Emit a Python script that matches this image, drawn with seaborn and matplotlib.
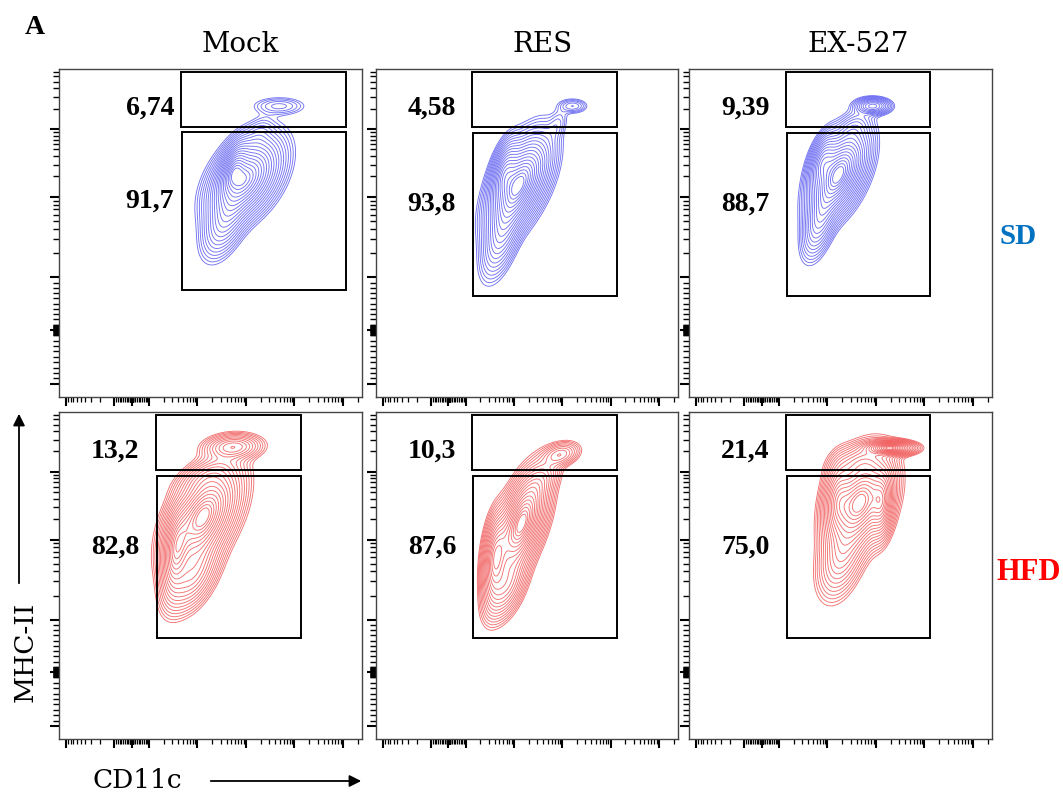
import numpy as np
import matplotlib
matplotlib.use("Agg")
import matplotlib.pyplot as plt
from matplotlib.patches import Rectangle, FancyArrowPatch
from matplotlib.ticker import FixedLocator, NullFormatter
import seaborn as sns

# group / condition labels
treatments = ["Mock", "RES", "EX-527"]
diets = ["SD", "HFD"]

# gate percentages (upper gate, lower gate), as printed
sd_upper_pct = ["6,74", "4,58", "9,39"]
sd_lower_pct = ["91,7", "93,8", "88,7"]
hfd_upper_pct = ["13,2", "10,3", "21,4"]
hfd_lower_pct = ["82,8", "87,6", "75,0"]

# gates in channel units (x0, y0, x1, y1), one per panel
upper_gates = [(0.403, 0.823, 0.947, 0.991), (0.318, 0.823, 0.798, 0.991), (0.320, 0.823, 0.796, 0.991),
               (0.320, 0.823, 0.800, 0.991), (0.318, 0.823, 0.798, 0.991), (0.320, 0.823, 0.796, 0.991)]
lower_gates = [(0.406, 0.326, 0.947, 0.808), (0.320, 0.308, 0.798, 0.805), (0.322, 0.308, 0.796, 0.805),
               (0.322, 0.309, 0.800, 0.804), (0.320, 0.309, 0.798, 0.804), (0.322, 0.309, 0.796, 0.804)]

# population components: (cx, cy, sx, sy, rho, amp) in channel units
sd_mock = [(0.615, 0.665, 0.060, 0.065, 0.45, 1.00),
           (0.550, 0.540, 0.040, 0.060, 0.50, 0.30),
           (0.575, 0.700, 0.028, 0.045, 0.55, 0.45),
           (0.660, 0.800, 0.025, 0.030, 0.40, 0.06),
           (0.727, 0.887, 0.048, 0.015, 0.00, 0.09)]
sd_res = [(0.475, 0.650, 0.052, 0.075, 0.55, 1.00),
          (0.418, 0.500, 0.035, 0.070, 0.55, 0.30),
          (0.425, 0.690, 0.025, 0.050, 0.50, 0.40),
          (0.600, 0.830, 0.020, 0.030, 0.50, 0.05),
          (0.652, 0.887, 0.026, 0.012, 0.00, 0.10)]
sd_ex = [(0.495, 0.680, 0.048, 0.068, 0.50, 1.00),
         (0.432, 0.540, 0.030, 0.060, 0.50, 0.30),
         (0.440, 0.720, 0.025, 0.045, 0.50, 0.40),
         (0.545, 0.820, 0.030, 0.030, 0.40, 0.08),
         (0.607, 0.887, 0.030, 0.013, 0.00, 0.35)]
hfd_mock = [(0.475, 0.680, 0.060, 0.078, 0.50, 1.00),
            (0.385, 0.570, 0.025, 0.070, 0.30, 0.55),
            (0.442, 0.505, 0.045, 0.060, 0.50, 0.35),
            (0.480, 0.800, 0.050, 0.030, 0.50, 0.12),
            (0.575, 0.893, 0.048, 0.020, 0.10, 0.30)]
hfd_res = [(0.482, 0.660, 0.043, 0.078, 0.55, 1.00),
           (0.395, 0.550, 0.022, 0.070, 0.30, 0.60),
           (0.432, 0.470, 0.035, 0.055, 0.50, 0.35),
           (0.545, 0.790, 0.035, 0.035, 0.50, 0.12),
           (0.610, 0.870, 0.033, 0.020, 0.30, 0.20)]
hfd_ex = [(0.565, 0.725, 0.053, 0.073, 0.35, 1.00),
          (0.637, 0.720, 0.020, 0.055, 0.20, 0.45),
          (0.490, 0.735, 0.025, 0.060, 0.20, 0.40),
          (0.505, 0.565, 0.040, 0.068, 0.40, 0.30),
          (0.560, 0.850, 0.050, 0.030, 0.30, 0.15),
          (0.665, 0.890, 0.040, 0.011, 0.00, 0.90)]

populations = [sd_mock, sd_res, sd_ex, hfd_mock, hfd_res, hfd_ex]
upper_pct = sd_upper_pct + hfd_upper_pct
lower_pct = sd_lower_pct + hfd_lower_pct


def ychan(v):
    # logicle-like MHC-II axis
    if v < 0:
        return 0.205 + v / 100 * 0.165
    if v <= 100:
        return 0.205 + v / 100 * 0.16
    d = np.log10(v / 100)
    return 0.365 + 0.245 * min(d, 1) + 0.207 * max(d - 1, 0)


def xchan(v):
    # logicle-like CD11c axis
    s = np.sign(v)
    a = abs(v)
    if a <= 100:
        return 0.24 + s * 0.057 * a / 100
    return 0.24 + s * (0.057 + np.log10(a / 100) * 0.16)


def tick_sets(chan, neg_decades, pos_decades):
    major = [0.0]
    minor = []
    for k in range(0, 2):
        for m in range(1, 10):
            minor += [m * 10 ** k, -m * 10 ** k]
    for k in range(2, pos_decades + 1):
        major.append(10.0 ** k)
        minor += [m * 10.0 ** k for m in range(2, 10)]
    for k in range(2, neg_decades + 1):
        major.append(-10.0 ** k)
        minor += [-m * 10.0 ** k for m in range(2, 10)]
    maj = [p for p in (chan(v) for v in major) if 0 <= p <= 1]
    mnr = [p for p in (chan(v) for v in minor) if 0 <= p <= 1]
    return maj, mnr


def density(comps, X, Y):
    Z = np.zeros_like(X)
    for cx, cy, sx, sy, rho, amp in comps:
        dx = (X - cx) / sx
        dy = (Y - cy) / sy
        q = (dx ** 2 - 2 * rho * dx * dy + dy ** 2) / (1 - rho ** 2)
        Z += amp * np.exp(-0.5 * q)
    return Z


sns.set_theme(style="white")
plt.rcParams['font.family'] = ['DejaVu Serif']
plt.rcParams['text.color'] = 'black'

fig = plt.figure(figsize=(10.63, 7.94), dpi=100)
W, H = 1063, 794
col_left = [59, 376, 689]
col_width = [303, 302, 303]
row_top = [69, 412]
row_height = [328, 327]
colors = ["#5050f0", "#f05050"]

gx = np.linspace(0, 1, 400)
X, Y = np.meshgrid(gx, gx)

xmaj, xmin = tick_sets(xchan, 3, 6)
ymaj, ymin = tick_sets(ychan, 2, 5)

# contour levels evenly spaced in "radius" so rings look like FlowJo's
ring = np.linspace(0.35, 2.8, 20)

for r in range(2):
    for c in range(3):
        i = r * 3 + c
        ax = fig.add_axes([col_left[c] / W, 1 - (row_top[r] + row_height[r]) / H,
                           col_width[c] / W, row_height[r] / H])
        ax.set_xlim(0, 1)
        ax.set_ylim(0, 1)
        Z = density(populations[i], X, Y)
        levels = np.sort(Z.max() * np.exp(-0.5 * ring ** 2))
        ax.contour(X, Y, Z, levels=levels, colors=colors[r], linewidths=0.65, alpha=0.8)

        for g in (upper_gates[i], lower_gates[i]):
            ax.add_patch(Rectangle((g[0], g[1]), g[2] - g[0], g[3] - g[1], fill=False,
                                   edgecolor="black", linewidth=1.4, zorder=5))

        lx = 0.38 if i == 0 else 0.265
        ly = 0.598 if i == 0 else 0.587
        ax.text(lx, 0.881, upper_pct[i], ha="right", va="center", fontsize=20,
                fontweight="bold", family="Liberation Serif")
        ax.text(lx, ly, lower_pct[i], ha="right", va="center", fontsize=20,
                fontweight="bold", family="Liberation Serif")

        ax.xaxis.set_major_locator(FixedLocator(xmaj))
        ax.xaxis.set_minor_locator(FixedLocator(xmin))
        ax.yaxis.set_major_locator(FixedLocator(ymaj))
        ax.yaxis.set_minor_locator(FixedLocator(ymin))
        ax.xaxis.set_major_formatter(NullFormatter())
        ax.yaxis.set_major_formatter(NullFormatter())
        ax.xaxis.set_tick_params(which="major", direction="out", length=6.5, width=1.5,
                                 color="black", bottom=True)
        ax.xaxis.set_tick_params(which="minor", direction="out", length=3.8, width=0.9,
                                 color="black", bottom=True)
        ax.yaxis.set_tick_params(which="major", direction="out", length=6.5, width=1.5,
                                 color="black", left=True)
        ax.yaxis.set_tick_params(which="minor", direction="out", length=4.2, width=1.0,
                                 color="black", left=True)
        for sp in ax.spines.values():
            sp.set_color("#444444")
            sp.set_linewidth(1.0)

# column titles
for name, px in zip(treatments, [240, 543, 858]):
    fig.text(px / W, 1 - 45 / H, name, ha="center", va="center", fontsize=20)

fig.text(35 / W, 1 - 28 / H, "A", ha="center", va="center", fontsize=20,
         fontweight="bold", family="Liberation Serif")
fig.text(1018 / W, 1 - 236 / H, diets[0], ha="center", va="center", fontsize=21,
         fontweight="bold", family="Liberation Serif", color="#0070c0")
fig.text(1029 / W, 1 - 573 / H, diets[1], ha="center", va="center", fontsize=22,
         fontweight="bold", family="Liberation Serif", color="#ff0000")

# axis names with arrows
fig.text(25 / W, 1 - 652 / H, "MHC-II", rotation=90, ha="center", va="center", fontsize=19)
fig.text(137 / W, 1 - 781 / H, "CD11c", ha="center", va="center", fontsize=19)
fig.add_artist(FancyArrowPatch((19 / W, 1 - 586 / H), (19 / W, 1 - 411 / H),
               transform=fig.transFigure, arrowstyle="-|>,head_length=7,head_width=3.5",
               color="black", linewidth=1.3))
fig.add_artist(FancyArrowPatch((208 / W, 1 - 781 / H), (364 / W, 1 - 781 / H),
               transform=fig.transFigure, arrowstyle="-|>,head_length=7,head_width=3.5",
               color="black", linewidth=1.3))

fig.savefig("out.png", dpi=100)
